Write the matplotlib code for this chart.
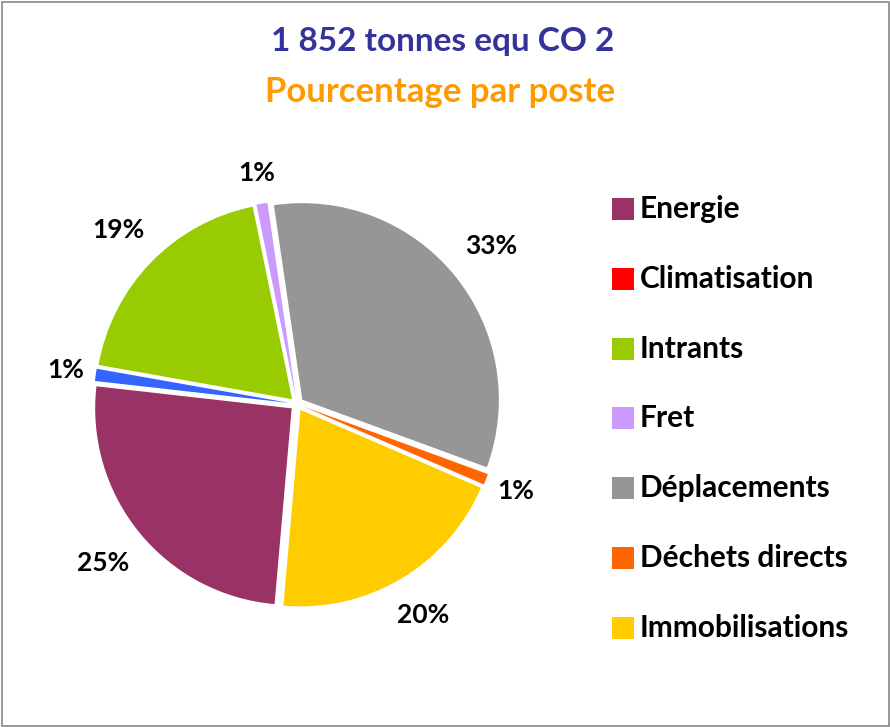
import numpy as np
import matplotlib
matplotlib.use("Agg")
import matplotlib.pyplot as plt
from matplotlib.patches import Rectangle

# ---- data ----
title_line1 = "1 852 tonnes equ CO 2"
title_line2 = "Pourcentage par poste"

legend_names = ["Energie", "Climatisation", "Intrants", "Fret",
                "Déplacements", "Déchets directs", "Immobilisations"]
legend_colors = ["#993366", "#FF0000", "#99CC00", "#CC99FF",
                 "#969696", "#FF6600", "#FFCC00"]

# slices in drawing order (clockwise), incl. one slice without legend entry
slice_names = ["Energie", "(sans légende)", "Intrants", "Fret",
               "Déplacements", "Déchets directs", "Immobilisations"]
slice_values = [25.4, 1.0, 19.0, 0.9, 32.9, 0.9, 19.9]
slice_colors = ["#993366", "#3366FF", "#99CC00", "#CC99FF",
                "#969696", "#FF6600", "#FFCC00"]

plt.rcParams['font.family'] = ['Lato', 'DejaVu Sans']

W, H = 890, 727
fig = plt.figure(figsize=(W / 100, H / 100), dpi=100)

# pie axes: centre (297, 404) px, radius ~196 px
R = 196.5
cx, cy = 297.0, 404.0
half = 1.5
ax = fig.add_axes([(cx - half * R) / W, (H - cy - half * R) / H,
                   2 * half * R / W, 2 * half * R / H])

explode = [0.035] * len(slice_values)
wedges, _ = ax.pie(slice_values, colors=slice_colors, startangle=265,
                   counterclock=False, explode=explode, radius=1,
                   wedgeprops=dict(linewidth=0))
ax.set_xlim(-half, half)
ax.set_ylim(-half, half)
ax.set_aspect('equal')
ax.axis('off')

total = sum(slice_values)
fs_lab = 19
for w, v in zip(wedges, slice_values):
    th = np.deg2rad((w.theta1 + w.theta2) / 2)
    txt = f"{round(v / total * 100):.0f}%"
    hw = 0.14 if len(txt) > 2 else 0.05
    hh = 0.05
    d = 1.10 + hw * abs(np.cos(th)) + hh * abs(np.sin(th))
    x0, y0 = w.center
    ax.text(x0 + d * np.cos(th), y0 + d * np.sin(th), txt,
            ha='center', va='center', fontsize=fs_lab, fontweight='bold',
            color='black')

# titles
fig.text(443 / W, 1 - 42 / H, title_line1, ha='center', va='center',
         fontsize=24, fontweight='bold', color='#333399')
fig.text(440 / W, 1 - 92 / H, title_line2, ha='center', va='center',
         fontsize=25, fontweight='bold', color='#FF9900')

# legend
for i, (name, col) in enumerate(zip(legend_names, legend_colors)):
    yc = 209 + 69.8 * i
    fig.patches.append(Rectangle((612 / W, 1 - (yc + 11) / H), 22 / W, 22 / H,
                                 transform=fig.transFigure, facecolor=col,
                                 edgecolor='none'))
    fig.text(640 / W, 1 - yc / H, name, ha='left', va='center',
             fontsize=21.5, fontweight='bold', color='black')

# outer frame
fig.patches.append(Rectangle((1.5 / W, 1.5 / H), (W - 3) / W, (H - 3) / H,
                             transform=fig.transFigure, facecolor='none',
                             edgecolor='#868686', linewidth=1.2))

fig.savefig("out.png", dpi=100)
